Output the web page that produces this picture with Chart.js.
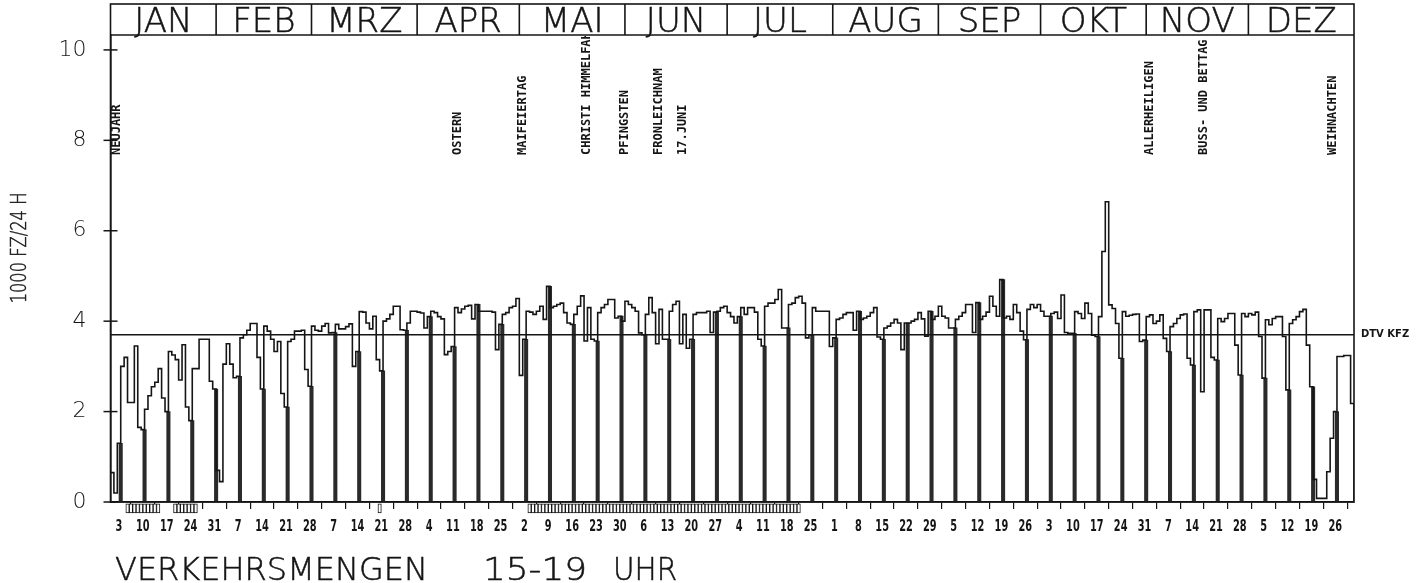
<!DOCTYPE html>
<html>
<head>
<meta charset="utf-8">
<script src="https://cdn.jsdelivr.net/npm/chart.js@4.4.1/dist/chart.umd.min.js"></script>
<style>
  html, body { margin: 0; padding: 0; background: #fff; }
  #wrap { width: 1428px; height: 583px; }
</style>
</head>
<body>
<div id="wrap"><canvas id="myChart" width="1428" height="583"></canvas></div>
<script>
const jan = [0.65, 0.2, 1.3, 3.0, 3.2, 2.2, 2.2, 3.45, 1.65, 1.6, 2.05, 2.35, 2.55, 2.65, 2.95, 2.3, 2.0,
             3.33, 3.25, 3.15, 2.7, 3.48, 2.1, 1.8, 2.95, 2.95, 3.6, 3.6, 3.6, 2.67, 2.5];
const feb = [0.7, 0.45, 3.05, 3.5, 3.05, 2.75, 2.78, 3.63, 3.7, 3.8, 3.95, 3.95, 3.2, 2.5,
             3.89, 3.78, 3.6, 3.33, 3.55, 2.4, 2.1, 3.55, 3.6, 3.78, 3.78, 3.8, 2.93, 2.56];
const mrz = [3.89, 3.8, 3.78, 3.89, 3.95, 3.74, 3.75, 3.93, 3.83, 3.83, 3.88, 3.94, 3.0, 3.33,
             4.21, 4.2, 3.96, 3.83, 4.11, 3.15, 2.9, 4.0, 4.05, 4.15, 4.33, 4.33, 3.81, 3.8,
             3.96, 4.22, 4.22];
const apr = [4.2, 4.18, 3.85, 4.1, 4.22, 4.19, 4.1, 4.05, 3.26, 3.33, 3.44, 4.3, 4.19, 4.27,
             4.33, 4.35, 4.05, 4.37, 4.22, 4.22, 4.22, 4.22, 4.2, 3.37, 3.93, 4.15, 4.19, 4.3,
             4.33, 4.5];
const mai = [2.8, 3.6, 4.22, 4.2, 4.15, 4.22, 4.33, 4.04, 4.77, 4.3, 4.33, 4.37, 4.4, 4.19,
             3.96, 3.93, 4.15, 4.33, 4.56, 3.56, 4.3, 3.6, 3.56, 4.19, 4.3, 4.37, 4.48, 4.48,
             4.07, 4.11, 4.0];
const jun = [4.44, 4.37, 4.3, 4.22, 3.74, 3.7, 4.15, 4.52, 4.19, 3.5, 4.26, 3.6, 3.6, 4.22,
             4.37, 4.44, 3.5, 4.15, 3.4, 3.6, 4.15, 4.19, 4.19, 4.19, 4.22, 3.75, 4.2, 4.22,
             4.3, 4.33];
const jul = [4.19, 4.1, 3.96, 4.1, 4.3, 4.15, 4.3, 4.3, 4.2, 3.6, 3.45, 4.33, 4.4, 4.4,
             4.48, 4.7, 3.85, 3.85, 4.37, 4.4, 4.52, 4.55, 4.4, 3.63, 3.7, 4.3, 4.22, 4.22,
             4.22, 4.22, 3.44];
const aug = [3.63, 4.04, 4.07, 4.15, 4.19, 4.19, 3.8, 4.22, 4.04, 4.07, 4.11, 4.19, 4.3, 3.65,
             3.6, 3.85, 3.89, 3.96, 4.04, 3.96, 3.37, 3.96, 3.96, 4.0, 4.04, 4.19, 4.05, 3.67,
             4.22, 4.04, 4.11];
const sep = [4.33, 4.11, 4.07, 3.85, 3.85, 4.04, 4.11, 4.19, 4.37, 4.37, 3.75, 4.41, 4.04, 4.11,
             4.2, 4.55, 4.33, 4.11, 4.92, 4.07, 4.11, 4.04, 4.37, 4.19, 3.78, 3.59, 4.26, 4.37,
             4.3, 4.37];
const okt = [4.22, 4.11, 4.11, 4.17, 4.2, 4.06, 4.58, 3.75, 3.73, 3.73, 4.21, 4.17, 4.06, 4.4,
             4.17, 3.69, 3.66, 4.1, 5.54, 6.64, 4.36, 4.28, 3.95, 3.18, 4.21, 4.11, 4.13, 4.15,
             4.16, 3.55, 3.58];
const nov = [4.1, 4.14, 3.95, 4.0, 4.14, 3.62, 3.33, 3.88, 3.95, 4.06, 4.14, 4.16, 3.18, 3.03,
             4.21, 4.25, 2.44, 4.25, 4.25, 3.2, 3.14, 4.06, 3.99, 4.06, 4.17, 4.17, 3.47, 2.81,
             4.17, 4.1];
const dez = [4.17, 4.14, 4.2, 3.66, 2.74, 4.03, 3.92, 4.06, 4.1, 4.1, 3.66, 2.48, 3.95, 4.03,
             4.1, 4.21, 4.26, 3.47, 2.55, 0.5, 0.08, 0.08, 0.08, 0.67, 1.41, 2.0, 3.22, 3.22,
             3.24, 3.24, 2.18];

const monthNames = ['JAN', 'FEB', 'MRZ', 'APR', 'MAI', 'JUN', 'JUL', 'AUG', 'SEP', 'OKT', 'NOV', 'DEZ'];
const sundayLabels = ['3', '10', '17', '24', '31', '7', '14', '21', '28', '7', '14', '21', '28',
                      '4', '11', '18', '25', '2', '9', '16', '23', '30', '6', '13', '20', '27',
                      '4', '11', '18', '25', '1', '8', '15', '22', '29', '5', '12', '19', '26',
                      '3', '10', '17', '24', '31', '7', '14', '21', '28', '5', '12', '19', '26'];
const firstSunday = 3; // 3. Januar 1982

// Feiertage (Tag im Jahr)
const holidayNames = ['NEUJAHR', 'OSTERN', 'MAIFEIERTAG', 'CHRISTI HIMMELFAHRT', 'PFINGSTEN',
                      'FRONLEICHNAM', '17.JUNI', 'ALLERHEILIGEN', 'BUSS- UND BETTAG', 'WEIHNACHTEN'];
const holidayDays = [1, 102, 121, 140, 151, 161, 168, 305, 321, 359];

// markierte Tage unter der Achse (von-bis, Tag im Jahr)
const flaggedRanges = [[6, 15], [20, 26], [80, 80], [124, 203]];

const dtvKfz = 3.7;
const yTicks = [0, 2, 4, 6, 8, 10];

// --- Aufbereitung ---
const months = [jan, feb, mrz, apr, mai, jun, jul, aug, sep, okt, nov, dez];
const values = [].concat(...months);
const nDays = values.length;

const stepPoints = values.map((v, i) => ({ x: i, y: v }));
stepPoints.push({ x: nDays, y: 0 });

const sundayBars = [];
for (let d = firstSunday; d <= nDays; d += 7) sundayBars.push({ x: d - 0.5, y: values[d - 1] });

const flagBars = [];
flaggedRanges.forEach(([a, b]) => {
    for (let d = a; d <= b; d++) flagBars.push({ x: d - 0.5, y: [-0.24, -0.04] });
});

const ink = '#151515';
const dayWidth = 3.4;

// Text im Plotter-Stil: dünn, leicht nachgezogen
function plotText(ctx, text, px, py, sx) {
    ctx.save();
    ctx.translate(px, py);
    ctx.scale(sx || 1, 1);
    ctx.fillText(text, 0, 0);
    ctx.lineWidth = 0.5;
    ctx.strokeText(text, 0, 0);
    ctx.restore();
}

// Rahmen, Monatsleiste, Beschriftungen
const paperPlugin = {
    id: 'paper',
    afterDraw(chart) {
        const { ctx, chartArea: a, scales: { x, y } } = chart;
        ctx.save();
        ctx.strokeStyle = ink;
        ctx.fillStyle = ink;
        ctx.lineWidth = 1.6;

        // Rahmen inkl. Monatsleiste
        ctx.strokeRect(a.left, 4, a.right - a.left, a.bottom - 4);
        ctx.beginPath();
        ctx.moveTo(a.left, a.top);
        ctx.lineTo(a.right, a.top);
        ctx.stroke();

        ctx.font = '200 34px "DejaVu Sans"';
        ctx.textAlign = 'center';
        ctx.textBaseline = 'alphabetic';
        let d = 0;
        months.forEach((m, k) => {
            const x0 = x.getPixelForValue(d);
            const x1 = x.getPixelForValue(d + m.length);
            if (k > 0) {
                ctx.lineWidth = 1.6;
                ctx.beginPath();
                ctx.moveTo(x0, 4);
                ctx.lineTo(x0, a.top);
                ctx.stroke();
            }
            plotText(ctx, monthNames[k], (x0 + x1) / 2, 32);
            d += m.length;
        });

        // Teilstriche y (über die Achse hinweg)
        ctx.lineWidth = 1.5;
        yTicks.forEach(v => {
            const py = y.getPixelForValue(v);
            ctx.beginPath();
            ctx.moveTo(a.left - 7, py);
            ctx.lineTo(a.left + 7, py);
            ctx.stroke();
        });

        // Wochen-Beschriftung (Sonntage), schmal gesetzt
        ctx.font = 'bold 16px "DejaVu Sans Condensed", "DejaVu Sans"';
        ctx.textAlign = 'center';
        ctx.textBaseline = 'middle';
        x.ticks.forEach((t, i) => {
            ctx.save();
            ctx.translate(x.getPixelForValue(t.value), 527);
            ctx.scale(0.68, 1);
            ctx.fillText(sundayLabels[i], 0, 0);
            ctx.restore();
        });

        // DTV Beschriftung
        ctx.font = 'bold 10px "DejaVu Sans"';
        ctx.textAlign = 'left';
        ctx.textBaseline = 'middle';
        ctx.fillText('DTV KFZ', a.right + 7, y.getPixelForValue(dtvKfz));

        // Feiertage (senkrecht)
        ctx.save();
        ctx.beginPath();
        ctx.rect(a.left, a.top + 1, a.right - a.left, a.bottom - a.top);
        ctx.clip();
        ctx.font = 'bold 12px "DejaVu Sans Mono"';
        holidayNames.forEach((name, k) => {
            const px = Math.max(x.getPixelForValue(holidayDays[k] - 0.5) + 1.5, a.left + 6);
            ctx.save();
            ctx.translate(px, 155);
            ctx.rotate(-Math.PI / 2);
            ctx.fillText(name, 0, 0);
            ctx.restore();
        });
        ctx.restore();

        // Achsentitel y
        ctx.save();
        ctx.font = '200 22px "DejaVu Sans"';
        ctx.textAlign = 'center';
        ctx.textBaseline = 'middle';
        ctx.translate(20, 248);
        ctx.rotate(-Math.PI / 2);
        plotText(ctx, '1000 FZ/24 H', 0, 0, 0.74);
        ctx.restore();

        // Titel unten
        ctx.font = '200 32px "DejaVu Sans"';
        ctx.textAlign = 'left';
        ctx.textBaseline = 'alphabetic';
        plotText(ctx, 'VERKEHRSMENGEN', 115, 580);
        plotText(ctx, '15-19', 483, 580, 1.12);
        plotText(ctx, 'UHR', 613, 580, 0.92);

        ctx.restore();
    }
};

const ctx = document.getElementById('myChart').getContext('2d');
const myChart = new Chart(ctx, {
    type: 'line',
    data: {
        datasets: [
            {
                type: 'line',
                data: stepPoints,
                stepped: true,
                borderColor: ink,
                borderWidth: 1.6,
                pointRadius: 0,
                fill: false,
                order: 0
            },
            {
                type: 'line',
                data: [{ x: 0, y: dtvKfz }, { x: nDays, y: dtvKfz }],
                borderColor: ink,
                borderWidth: 1.4,
                pointRadius: 0,
                order: 0
            },
            {
                type: 'bar',
                data: sundayBars,
                backgroundColor: '#2a2a2a',
                borderWidth: 0,
                barThickness: dayWidth,
                order: 2
            },
            {
                type: 'bar',
                data: flagBars,
                backgroundColor: '#ffffff',
                borderColor: ink,
                borderWidth: 1,
                borderSkipped: false,
                barThickness: dayWidth,
                clip: false,
                order: 1
            }
        ]
    },
    options: {
        responsive: false,
        animation: false,
        devicePixelRatio: 1,
        layout: { padding: { left: 60.5, right: 74, top: 35, bottom: 41 } },
        plugins: {
            legend: { display: false },
            tooltip: { enabled: false },
            title: { display: false }
        },
        scales: {
            x: {
                type: 'linear',
                min: 0,
                max: nDays,
                offset: false,
                afterBuildTicks: s => {
                    s.ticks = sundayLabels.map((_, k) => ({ value: firstSunday - 0.5 + 7 * k }));
                },
                afterFit: s => { s.height = 40; },
                ticks: { display: false, autoSkip: false },
                grid: { drawOnChartArea: false, tickLength: 7, color: ink, lineWidth: 1.2 },
                border: { display: true, color: ink, width: 1.6 }
            },
            y: {
                min: 0,
                max: 10.33,
                afterBuildTicks: s => { s.ticks = yTicks.map(v => ({ value: v })); },
                afterFit: s => { s.width = 50; },
                ticks: {
                    padding: 16,
                    color: ink,
                    font: { family: '"DejaVu Sans"', size: 22, weight: 200 }
                },
                grid: { display: false },
                border: { display: true, color: ink, width: 1.6 }
            }
        }
    },
    plugins: [paperPlugin]
});
</script>
</body>
</html>
